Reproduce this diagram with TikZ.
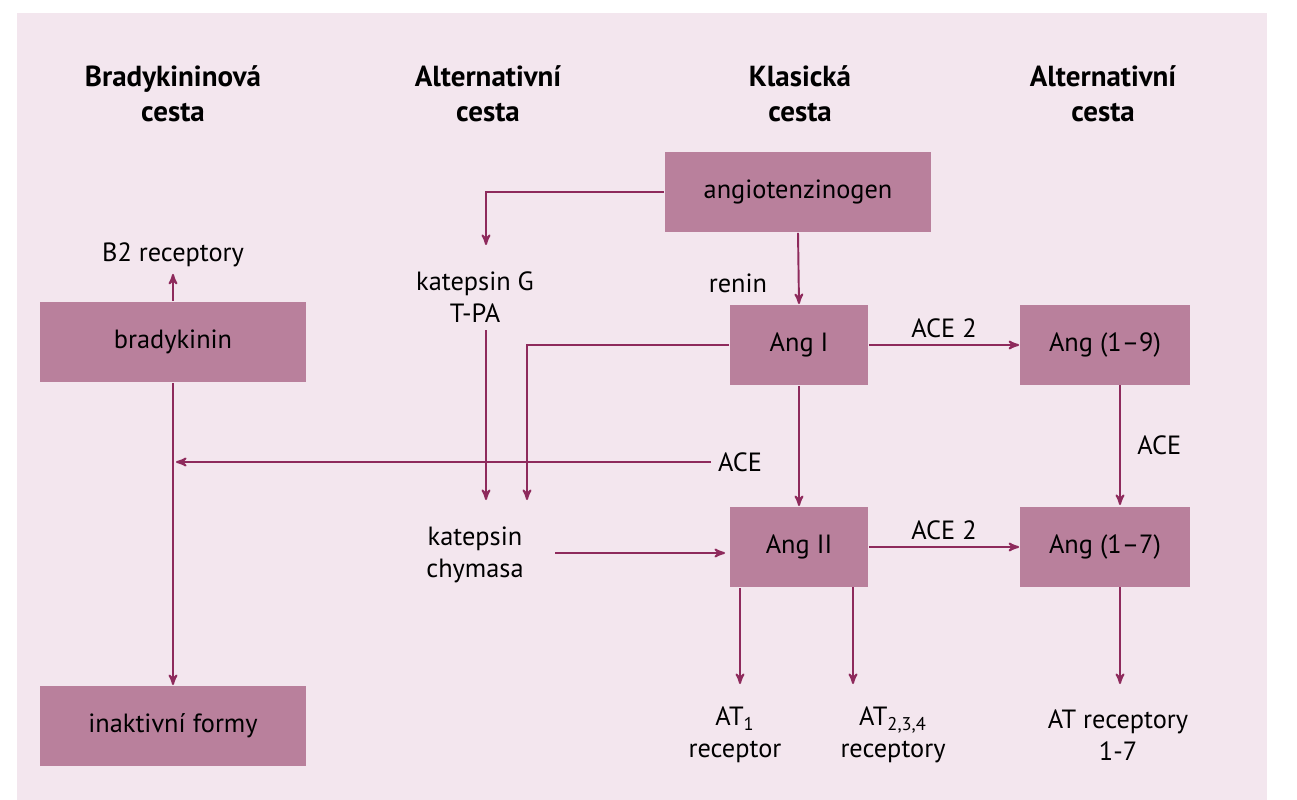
\documentclass[tikz,border=0pt]{standalone}
\usepackage{fontspec}
\setmainfont{PT Sans}
\usetikzlibrary{arrows,positioning}
\definecolor{bgpink}{HTML}{F3E6EE}
\definecolor{boxpink}{HTML}{B9809C}
\definecolor{arrowred}{HTML}{8E2A5C}

\begin{document}
\begin{tikzpicture}[x=0.02cm,y=-0.02cm,->,>=stealth',
        line width=1.1pt,draw=arrowred,
        box/.style={rectangle,fill=boxpink,draw=none,minimum height=1.6cm,font=\fontsize{15}{17}\selectfont},
        txt/.style={align=center,font=\fontsize{15}{18}\selectfont},
        head/.style={align=center,font=\bfseries\fontsize{16.5}{20}\selectfont}]

  \useasboundingbox (0,0) rectangle (1297,800);
  \fill[bgpink] (17,13) rectangle (1267,800);

  \node[head] (h1) at (173,94) {Bradykininová\\cesta};
  \node[head] (h2) at (488,94) {Alternativní\\cesta};
  \node[head] (h3) at (800,94) {Klasická\\cesta};
  \node[head] (h4) at (1103,94) {Alternativní\\cesta};

  \node[box,minimum width=5.34cm] (ago) at (798,192) {angiotenzinogen};
  \node[box,minimum width=5.34cm] (bk) at (173,342) {bradykinin};
  \node[box,minimum width=5.34cm] (inf) at (173,726) {inaktivní formy};
  \node[box,minimum width=2.76cm] (a1) at (799,345) {Ang I};
  \node[box,minimum width=2.76cm] (a2) at (799,547) {Ang II};
  \node[box,minimum width=3.4cm] (a19) at (1105,345) {Ang (1–9)};
  \node[box,minimum width=3.4cm] (a17) at (1105,547) {Ang (1–7)};

  \node[txt] (b2) at (173,255) {B2 receptory};
  \node[txt] (kg) at (475,297) {katepsin G\\T-PA};
  \node[txt] (kc) at (475,555) {katepsin\\chymasa};
  \node[txt] (at1) at (735,735) {AT\textsubscript{1}\\receptor};
  \node[txt] (at2) at (893,735) {AT\textsubscript{2,3,4}\\receptory};
  \node[txt] (at17) at (1118,735) {AT receptory\\1-7};
  \node[txt] (ren) at (738,283) {renin};
  \node[txt] (ace) at (740,462) {ACE};

  \coordinate (kgtop) at (486,245);
  \coordinate (kgbot) at (486,500);
  \coordinate (kcin) at (527,500);
  \coordinate (bkace) at (176,462);
  \coordinate (a2in) at (725,553);
  \coordinate (at1in) at (740,684);

  \draw (ago.west) -| (kgtop);
  \draw (ago.south) -- (a1.north);
  \draw (bk.north) -- (b2.south);
  \draw (bk.south) -- (inf.north);
  \draw (ace.west) -- (bkace);
  \draw (486,330) -- (kgbot);
  \draw (a1.west) -| (kcin);
  \draw (a1.south) -- (a2.north);
  \draw (a1.east) -- node[above,txt] {ACE 2} (a19.west);
  \draw (a2.east) -- node[above,txt] {ACE 2} (a17.west);
  \draw (1120,385) -- node[right=6pt,txt] {ACE} (1120,505);
  \draw (555,553) -- (a2in);
  \draw (at1in |- a2.south) -- (at1in);
  \draw (853,587) -- (853,684);
  \draw (1120,587) -- (1120,684);

\end{tikzpicture}
\end{document}
